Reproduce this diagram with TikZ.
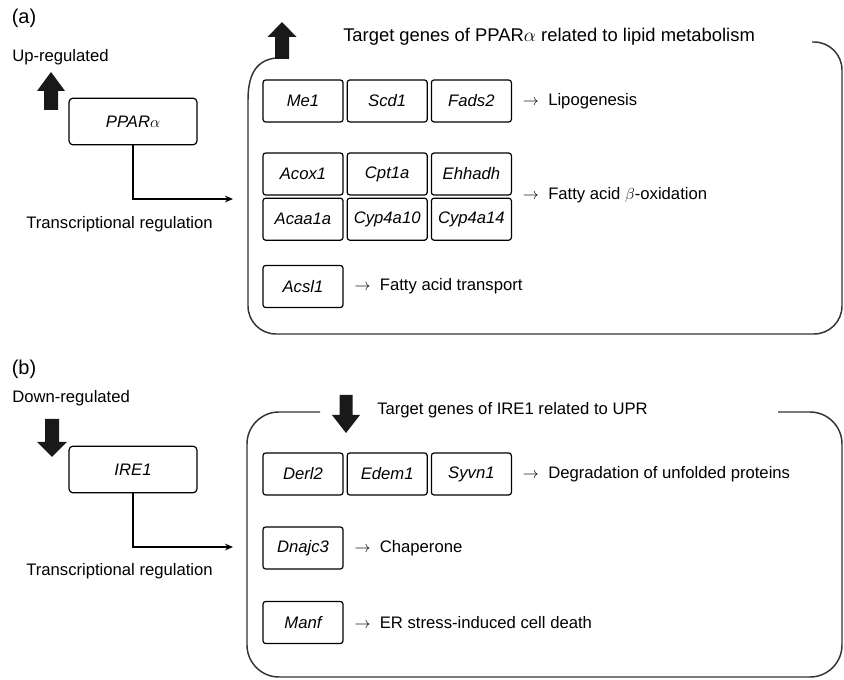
\documentclass[tikz,border=0pt]{standalone}
\usepackage{fontspec}
\setmainfont{Liberation Sans}
\usepackage{amsmath}
\usetikzlibrary{arrows.meta}
\usetikzlibrary{positioning}

\begin{document}
\begin{tikzpicture}[x=0.75pt,y=-0.75pt,node distance=2.25pt,
	gene/.style={draw, line width=0.9pt, rounded corners=2pt, minimum width=60pt, minimum height=31.5pt, inner sep=0pt, font=\fontsize{12.5}{15}\selectfont\itshape},
	regbox/.style={gene, minimum width=96pt, minimum height=35pt, rounded corners=3pt},
	txt/.style={inner sep=0pt, font=\fontsize{12.5}{15}\selectfont},
	frame/.style={line width=1.1pt, black!80},
	blockarrow/.style={fill=black!90}]
			\useasboundingbox (0,0) rectangle (844,680);
			
			% (a) PPARa
			\node[txt, font=\fontsize{15}{18}\selectfont] (lbla) at (24,18) {(a)};
			\node[txt, anchor=west] (up) at (12,57) {Up-regulated};
			\fill[blockarrow] (51,72) -- ++(14,19) -- ++(-7,0) -- ++(0,19) -- ++(-14,0) -- ++(0,-19) -- ++(-7,0) -- cycle;
			\node[regbox] (ppar) at (133,121.5) {PPAR$\alpha$};
			\coordinate (ina) at (233,199);
			\draw[line width=0.9pt, -{Stealth[length=6pt,width=5pt]}] (ppar) |- (ina);
			\node[txt, anchor=west] (trega) at (26,224) {Transcriptional regulation};
			
			\draw[frame] (812,42) [rounded corners=21pt] -- (842,42) -- (842,334) -- (248,334) -- (248,160) [sharp corners] -- (248,100) .. controls (248,72) and (258,60) .. (276,58);
			\fill[blockarrow] (282,22) -- ++(14.5,15) -- ++(-7.5,0) -- ++(0,22) -- ++(-14,0) -- ++(0,-22) -- ++(-7.5,0) -- cycle;
			\node[txt, anchor=west, font=\fontsize{13.8}{16}\selectfont] (titlea) at (343,37) {Target genes of PPAR$\alpha$ related to lipid metabolism};
			
			\node[gene] (me) at (303,101) {Me1};
			\node[gene] (scd) [right=of me] {Scd1};
			\node[gene] (fads) [right=of scd] {Fads2};
			\node[txt] (lipo) [right=8pt of fads] {$\rightarrow$\hspace{7pt}Lipogenesis};
			
			\node[gene] (acox) at (303,174) {Acox1};
			\node[gene] (cpt) [right=of acox] {Cpt1a};
			\node[gene] (ehh) [right=of cpt] {Ehhadh};
			\node[gene] (acaa) [below=1.5pt of acox] {Acaa1a};
			\node[gene] (cypa) [right=of acaa] {Cyp4a10};
			\node[gene] (cypb) [right=of cypa] {Cyp4a14};
			\node[txt] (boxid) [right=8pt of ehh.south east] {$\rightarrow$\hspace{7pt}Fatty acid $\beta$-oxidation};
			
			\node[gene] (acsl) at (303,286.5) {Acsl1};
			\node[txt] (trans) [right=8pt of acsl] {$\rightarrow$\hspace{7pt}Fatty acid transport};
			
			% (b) IRE1
			\node[txt, font=\fontsize{15}{18}\selectfont] (lblb) at (24,369) {(b)};
			\node[txt, anchor=west] (down) at (12,398) {Down-regulated};
			\fill[blockarrow] (52,457) -- ++(15,-15) -- ++(-8,0) -- ++(0,-23) -- ++(-14,0) -- ++(0,23) -- ++(-8,0) -- cycle;
			\node[regbox] (ire) at (133,469.5) {IRE1};
			\coordinate (inb) at (233,547);
			\draw[line width=0.9pt, -{Stealth[length=6pt,width=5pt]}] (ire) |- (inb);
			\node[txt, anchor=west] (tregb) at (26,571) {Transcriptional regulation};
			
			\draw[frame, rounded corners=24pt] (320,412) -- (247,412) -- (247,677) -- (842,677) -- (842,412) -- (778,412);
			\fill[blockarrow] (346,433) -- ++(14,-18) -- ++(-7.5,0) -- ++(0,-20) -- ++(-13,0) -- ++(0,20) -- ++(-7.5,0) -- cycle;
			\node[txt, anchor=west] (titleb) at (377,410) {Target genes of IRE1 related to UPR};
			
			\node[gene] (derl) at (303,474) {Derl2};
			\node[gene] (edem) [right=of derl] {Edem1};
			\node[gene] (syvn) [right=of edem] {Syvn1};
			\node[txt] (degr) [right=8pt of syvn] {$\rightarrow$\hspace{7pt}Degradation of unfolded proteins};
			
			\node[gene] (dnaj) at (303,548) {Dnajc3};
			\node[txt] (chap) [right=8pt of dnaj] {$\rightarrow$\hspace{7pt}Chaperone};
			
			\node[gene] (manf) at (303,622.5) {Manf};
			\node[txt] (death) [right=8pt of manf] {$\rightarrow$\hspace{7pt}ER stress-induced cell death};
			
		\end{tikzpicture}
\end{document}
